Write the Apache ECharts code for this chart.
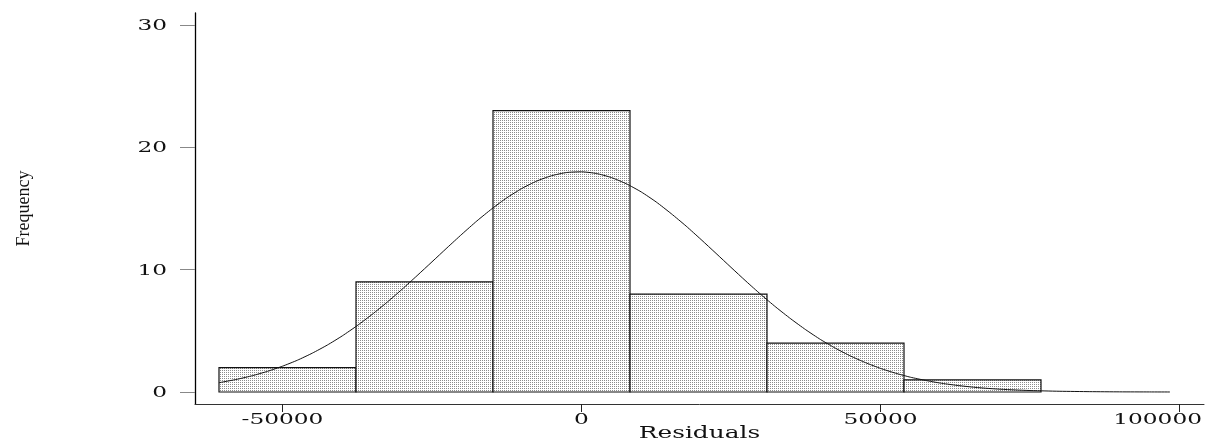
<!DOCTYPE html>
<html>
<head>
<meta charset="utf-8">
<script src="https://cdn.jsdelivr.net/npm/echarts@6/dist/echarts.min.js"></script>
<style>
html,body{margin:0;padding:0;background:#fff;}
#chart{width:1207px;height:444px;}
</style>
</head>
<body>
<div id="chart"></div>
<script>
// ---- data ----
const binStart = [-60619, -37709, -14799, 8110, 31020, 53930];
const binEnd   = [-37709, -14799, 8110, 31020, 53930, 76839];
const counts   = [2, 9, 23, 8, 4, 1];

const curveX = [-60619, -57500, -55000, -52500, -50000, -47500, -45000, -42500, -40000, -37500,
                -35000, -32500, -30000, -27500, -25000, -22500, -20000, -17500, -15000, -12500,
                -10000, -7500, -5000, -2500, 0, 2500, 5000, 7500, 10000, 12500,
                15000, 17500, 20000, 22500, 25000, 27500, 30000, 32500, 35000, 37500,
                40000, 42500, 45000, 47500, 50000, 52500, 55000, 57500, 60000, 62500,
                65000, 67500, 70000, 72500, 75000, 77500, 80000, 85000, 90000, 95000,
                98400];
const curveY = [0.76, 1.05, 1.34, 1.69, 2.11, 2.60, 3.18, 3.84, 4.59, 5.43,
                6.35, 7.34, 8.40, 9.51, 10.64, 11.78, 12.90, 13.98, 14.97, 15.87,
                16.63, 17.24, 17.68, 17.94, 18.00, 17.86, 17.53, 17.02, 16.35, 15.53,
                14.58, 13.56, 12.46, 11.33, 10.19, 9.06, 7.97, 6.94, 5.98, 5.09,
                4.28, 3.57, 2.94, 2.40, 1.93, 1.54, 1.21, 0.95, 0.73, 0.56,
                0.42, 0.31, 0.23, 0.17, 0.12, 0.088, 0.06, 0.03, 0.013, 0.006,
                0.003];

const xTicks = [-50000, 0, 50000, 100000];
const xTickLabels = ['-50000', '0', '50000', '100000'];
const yTicks = [0, 10, 20, 30];
const yTickLabels = ['0', '10', '20', '30'];
const xTitle = 'Residuals';
const yTitle = 'Frequency';

// ---- build ----
const histData = binStart.map((s, i) => [s, binEnd[i], counts[i]]);
const curveData = curveX.map((x, i) => [x, curveY[i]]);

const tile = document.createElement('canvas');
tile.width = 2; tile.height = 2;
const tctx = tile.getContext('2d');
tctx.fillStyle = '#ffffff'; tctx.fillRect(0, 0, 2, 2);
tctx.fillStyle = '#8c8c8c'; tctx.fillRect(0, 0, 1, 1);

const X_MIN = -64632, X_MAX = 104097;
const chart = echarts.init(document.getElementById('chart'), null, {renderer: 'canvas'});

const option = {
  animation: false,
  backgroundColor: '#ffffff',
  grid: {left: 195, right: 3, top: 13, bottom: 40, containLabel: false, outerBoundsMode: 'none'},
  xAxis: {
    type: 'value', min: X_MIN, max: X_MAX,
    axisLine: {show: true, onZero: false, lineStyle: {color: '#333', width: 1}},
    axisTick: {show: true, customValues: xTicks, length: 8, lineStyle: {color: '#222', width: 1}},
    axisLabel: {show: false},
    splitLine: {show: false}
  },
  yAxis: {
    type: 'value', min: -0.98, max: 30.98,
    axisLine: {show: true, onZero: false, lineStyle: {color: '#000', width: 1.3}},
    axisTick: {show: true, customValues: yTicks, length: 15, lineStyle: {color: '#888', width: 1}},
    axisLabel: {show: false},
    splitLine: {show: false},
    name: yTitle, nameLocation: 'middle', nameRotate: 90, nameGap: 162,
    nameTextStyle: {fontFamily: '"Liberation Serif"', fontSize: 18, color: '#111'}
  },
  series: [
    {
      type: 'custom',
      data: histData,
      encode: {x: [0, 1], y: 2},
      renderItem: function (params, api) {
        const p0 = api.coord([api.value(0), api.value(2)]);
        const p1 = api.coord([api.value(1), 0]);
        return {
          type: 'rect',
          shape: {x: p0[0], y: p0[1], width: p1[0] - p0[0], height: p1[1] - p0[1]},
          style: {fill: {image: tile, repeat: 'repeat'}, stroke: '#111', lineWidth: 1.2}
        };
      },
      z: 2
    },
    {
      type: 'line',
      data: curveData,
      smooth: 0.2,
      showSymbol: false,
      symbol: 'none',
      lineStyle: {color: '#111', width: 1},
      z: 3
    }
  ]
};
chart.setOption(option);

// stretched labels (reference font is a wide serif)
const STRETCH = 1.55;
const TICK_FONT = '15px "DejaVu Serif"';
const mctx = document.createElement('canvas').getContext('2d');
function textW(t, font) { mctx.font = font; return mctx.measureText(t).width * STRETCH; }
const W = chart.getWidth();
const graphics = [];
xTicks.forEach((v, i) => {
  let px = chart.convertToPixel({xAxisIndex: 0}, v);
  const w = textW(xTickLabels[i], TICK_FONT);
  if (px + w / 2 > W - 5) px = W - 5 - w / 2;
  graphics.push({
    type: 'text', x: px, y: 420, scaleX: STRETCH,
    style: {text: xTickLabels[i], font: TICK_FONT, fill: '#111',
            align: 'center', verticalAlign: 'middle', textAlign: 'center', textVerticalAlign: 'middle'}
  });
});
yTicks.forEach((v, i) => {
  const py = chart.convertToPixel({yAxisIndex: 0}, v);
  graphics.push({
    type: 'text', x: 167, y: py + 1, scaleX: STRETCH,
    style: {text: yTickLabels[i], font: TICK_FONT, fill: '#111',
            align: 'right', verticalAlign: 'middle', textAlign: 'right', textVerticalAlign: 'middle'}
  });
});
graphics.push({
  type: 'text', x: chart.convertToPixel({xAxisIndex: 0}, (X_MIN + X_MAX) / 2), y: 434, scaleX: STRETCH,
  style: {text: xTitle, font: '16px "DejaVu Serif"', fill: '#111',
          align: 'center', verticalAlign: 'middle', textAlign: 'center', textVerticalAlign: 'middle'}
});
chart.setOption({graphic: {elements: graphics}});
</script>
</body>
</html>
